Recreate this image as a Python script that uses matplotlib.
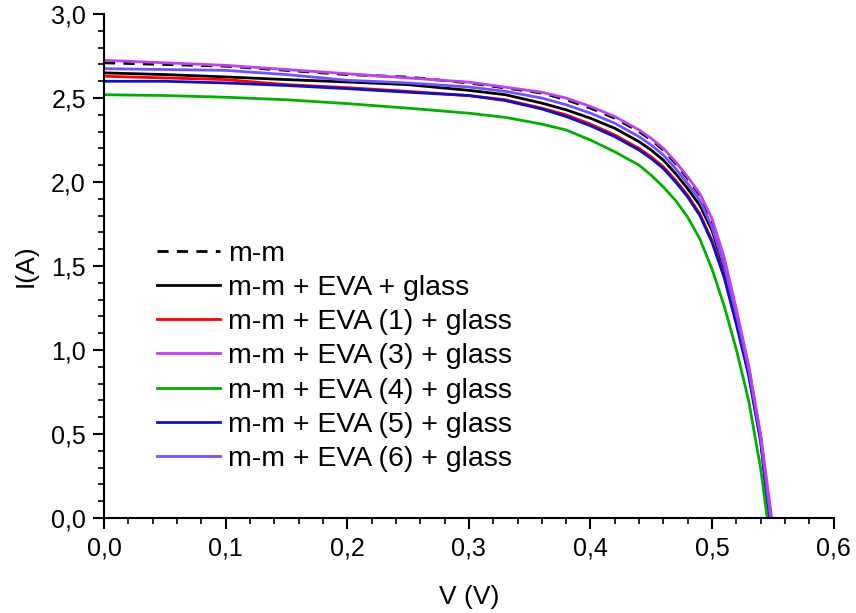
import numpy as np
import matplotlib
matplotlib.use('Agg')
import matplotlib.pyplot as plt
from matplotlib.ticker import MultipleLocator, FuncFormatter

matplotlib.rcParams['font.family'] = ['Liberation Sans', 'DejaVu Sans']

# voltage grid (V) shared by all curves, open-circuit point appended per curve
v_grid = [0.0, 0.05, 0.10, 0.15, 0.20, 0.25, 0.30, 0.33, 0.36, 0.38, 0.40,
          0.42, 0.44, 0.45, 0.46, 0.47, 0.48, 0.49, 0.50, 0.51, 0.52,
          0.53, 0.54]

labels = ['m-m', 'm-m + EVA + glass', 'm-m + EVA (1) + glass',
          'm-m + EVA (3) + glass', 'm-m + EVA (4) + glass',
          'm-m + EVA (5) + glass', 'm-m + EVA (6) + glass']

# current (A) at each v_grid point
i_mm = [2.71, 2.70, 2.69, 2.665, 2.64, 2.625, 2.59, 2.56, 2.53, 2.49, 2.44,
        2.38, 2.30, 2.25, 2.19, 2.11, 2.02, 1.92, 1.76, 1.53, 1.22,
        0.90, 0.48]
i_eva = [2.65, 2.64, 2.626, 2.61, 2.596, 2.58, 2.546, 2.52, 2.47, 2.43, 2.38,
         2.32, 2.24, 2.19, 2.13, 2.05, 1.96, 1.86, 1.71, 1.48, 1.19,
         0.87, 0.47]
i_eva1 = [2.63, 2.62, 2.61, 2.58, 2.562, 2.54, 2.515, 2.49, 2.44, 2.40, 2.345,
          2.28, 2.20, 2.15, 2.09, 2.01, 1.92, 1.81, 1.65, 1.44, 1.17,
          0.86, 0.46]
i_eva3 = [2.725, 2.71, 2.695, 2.67, 2.645, 2.62, 2.595, 2.565, 2.535, 2.50, 2.45,
          2.39, 2.31, 2.26, 2.20, 2.12, 2.03, 1.93, 1.78, 1.55, 1.24,
          0.91, 0.49]
i_eva4 = [2.52, 2.515, 2.505, 2.49, 2.467, 2.44, 2.41, 2.385, 2.345, 2.31, 2.25,
          2.18, 2.10, 2.04, 1.97, 1.89, 1.79, 1.66, 1.48, 1.26, 1.00,
          0.70, 0.29]
i_eva5 = [2.60, 2.60, 2.59, 2.575, 2.556, 2.535, 2.515, 2.485, 2.435, 2.39, 2.335,
          2.27, 2.19, 2.14, 2.08, 2.00, 1.91, 1.80, 1.64, 1.43, 1.15,
          0.85, 0.45]
i_eva6 = [2.675, 2.67, 2.665, 2.64, 2.606, 2.59, 2.566, 2.54, 2.50, 2.46, 2.41,
          2.35, 2.27, 2.22, 2.16, 2.08, 1.99, 1.89, 1.73, 1.50, 1.21,
          0.89, 0.48]

# open-circuit voltage (V) of each curve
voc = [0.548, 0.547, 0.547, 0.549, 0.5453, 0.547, 0.548]

currents = [i_mm, i_eva, i_eva1, i_eva3, i_eva4, i_eva5, i_eva6]
colors = ['black', 'black', '#FF0000', '#C040F0', '#00B000', '#1010C0', '#7050FF']
styles = ['--', '-', '-', '-', '-', '-', '-']

fig = plt.figure(figsize=(8.56, 6.13), dpi=100)
ax = fig.add_axes([0.1215, 0.155, 0.8525, 0.822])

# draw order: dashed first, purple last so it sits on top in the knee
order = [0, 1, 2, 5, 4, 6, 3]
handles = {}
for k in order:
    v = v_grid + [voc[k]]
    i = currents[k] + [0.0]
    ln, = ax.plot(v, i, color=colors[k], linestyle=styles[k], lw=2.0,
                  dashes=(4, 3) if styles[k] == '--' else (None, None),
                  label=labels[k])
    handles[k] = ln

ax.set_xlim(0, 0.6)
ax.set_ylim(0, 3.0)
ax.xaxis.set_major_locator(MultipleLocator(0.1))
ax.xaxis.set_minor_locator(MultipleLocator(0.02))
ax.yaxis.set_major_locator(MultipleLocator(0.5))
ax.yaxis.set_minor_locator(MultipleLocator(0.1))
comma = FuncFormatter(lambda x, pos: f'{x:.1f}'.replace('.', ','))
ax.xaxis.set_major_formatter(comma)
ax.yaxis.set_major_formatter(comma)

for s in ['top', 'right']:
    ax.spines[s].set_visible(False)
for s in ['left', 'bottom']:
    ax.spines[s].set_linewidth(1.5)
ax.tick_params(which='major', direction='out', length=8, width=1.5,
               labelsize=18, pad=5)
ax.tick_params(which='minor', direction='out', length=4, width=1.2)

ax.set_xlabel('V (V)', fontsize=19, labelpad=18)
ax.set_ylabel('I(A)', fontsize=19, labelpad=10)

leg = ax.legend([handles[k] for k in range(7)], labels,
                loc='upper left', bbox_to_anchor=(0.057, 0.573),
                frameon=False, fontsize=20.5, handlelength=2.2,
                handletextpad=0.3, labelspacing=0.29, borderaxespad=0)

fig.savefig('out.png', dpi=100, facecolor='white')
